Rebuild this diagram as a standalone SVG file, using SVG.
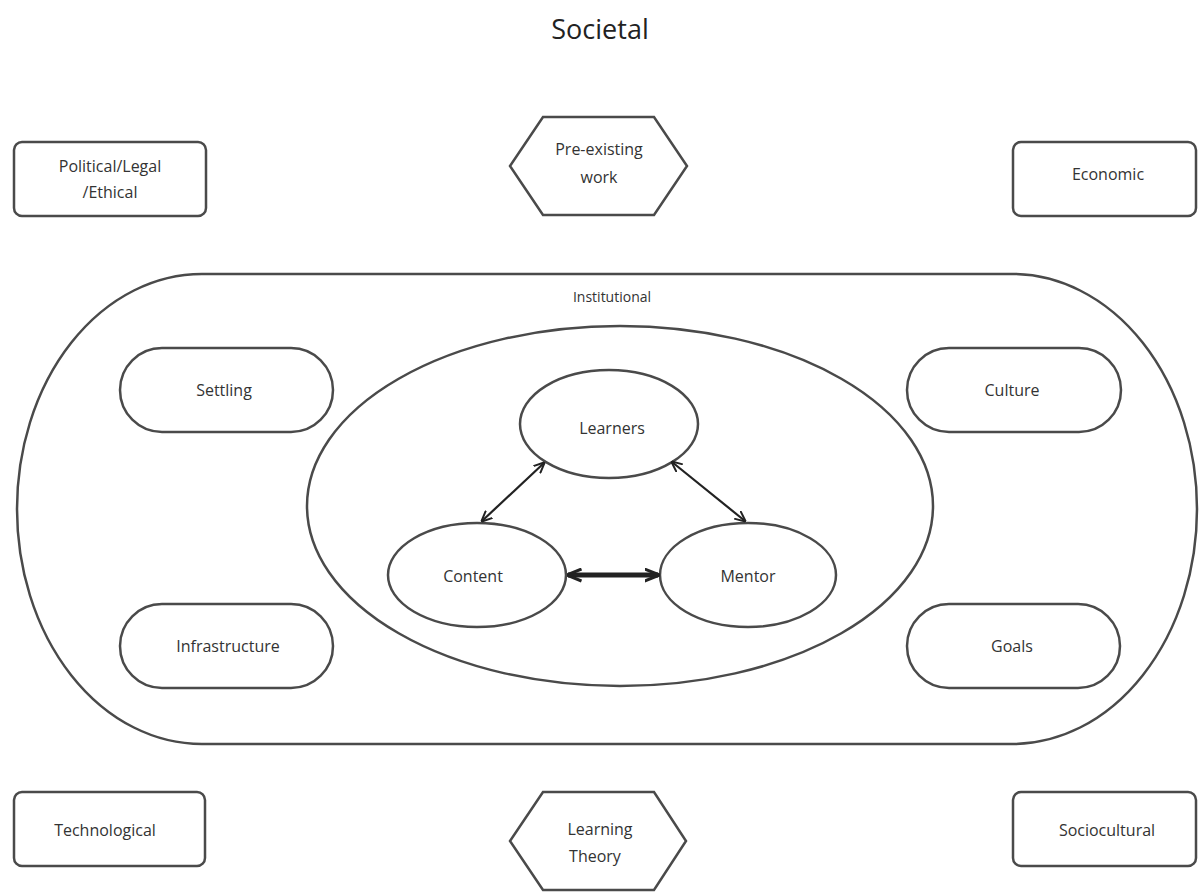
<svg xmlns="http://www.w3.org/2000/svg" width="1199" height="893" viewBox="0 0 1199 893">
<style>
.shape{fill:#fff;stroke:#4a4a4a;stroke-width:2.5}
.lbl{font-family:"Open Sans","Liberation Sans",sans-serif;font-size:16px;fill:#333;text-anchor:middle;dominant-baseline:central}
.title{font-family:"Open Sans","Liberation Sans",sans-serif;font-size:27px;fill:#222;text-anchor:middle;dominant-baseline:central}
.conn{stroke:#222;stroke-width:2.2;fill:none}
</style>
<defs>
<marker id="ah" viewBox="0 0 10 10" refX="9" refY="5" markerWidth="11" markerHeight="11" orient="auto-start-reverse" markerUnits="userSpaceOnUse">
<path d="M0,0.5 L10,5 L0,9.5" fill="none" stroke="#222" stroke-width="1.8"/>
</marker>
<marker id="ah2" viewBox="0 0 10 10" refX="9" refY="5" markerWidth="15" markerHeight="15" orient="auto-start-reverse" markerUnits="userSpaceOnUse">
<path d="M0,1 L10,5 L0,9" fill="none" stroke="#222" stroke-width="2"/>
</marker>
</defs>
<rect width="1199" height="893" fill="#fff"/>
<text class="title" x="600" y="28">Societal</text>

<g id="political"><rect class="shape" x="14" y="142" width="192" height="74" rx="8"/><text class="lbl" x="110" y="166">Political/Legal</text><text class="lbl" x="110" y="192">/Ethical</text></g>
<g id="preexisting"><polygon class="shape" points="543,117 654,117 687,166 654,215 543,215 510,166"/><text class="lbl" x="599" y="149">Pre-existing</text><text class="lbl" x="599" y="177">work</text></g>
<g id="economic"><rect class="shape" x="1013" y="142" width="183" height="74" rx="8"/><text class="lbl" x="1108" y="174">Economic</text></g>

<g id="institutional"><rect class="shape" x="17" y="274" width="1180" height="470" rx="185" ry="235"/><text class="lbl" x="612" y="296" style="font-size:14px">Institutional</text></g>

<g id="settling"><rect class="shape" x="120" y="348" width="213" height="84" rx="42"/><text class="lbl" x="224" y="390">Settling</text></g>
<g id="culture"><rect class="shape" x="907" y="348" width="214" height="84" rx="42"/><text class="lbl" x="1012" y="390">Culture</text></g>
<g id="infrastructure"><rect class="shape" x="120" y="604" width="213" height="84" rx="42"/><text class="lbl" x="228" y="646">Infrastructure</text></g>
<g id="goals"><rect class="shape" x="907" y="604" width="213" height="84" rx="42"/><text class="lbl" x="1012" y="646">Goals</text></g>

<g id="core"><ellipse class="shape" cx="620" cy="506" rx="313" ry="180"/></g>
<g id="learners"><ellipse class="shape" cx="609" cy="424" rx="89" ry="54"/><text class="lbl" x="612" y="428">Learners</text></g>
<g id="content"><ellipse class="shape" cx="477" cy="575" rx="89" ry="52"/><text class="lbl" x="473" y="576">Content</text></g>
<g id="mentor"><ellipse class="shape" cx="748" cy="575" rx="88" ry="52"/><text class="lbl" x="748" y="576">Mentor</text></g>

<g id="technological"><rect class="shape" x="14" y="792" width="191" height="74" rx="8"/><text class="lbl" x="105" y="830">Technological</text></g>
<g id="learningtheory"><polygon class="shape" points="543,792 654,792 686,841 654,890 543,890 510,841"/><text class="lbl" x="600" y="829">Learning</text><text class="lbl" x="595" y="856">Theory</text></g>
<g id="sociocultural"><rect class="shape" x="1013" y="792" width="183" height="74" rx="8"/><text class="lbl" x="1107" y="830">Sociocultural</text></g>

<g id="connectors">
<line class="conn" x1="482" y1="521" x2="544" y2="463" marker-start="url(#ah)" marker-end="url(#ah)"/>
<line class="conn" x1="672" y1="462" x2="745" y2="521" marker-start="url(#ah)" marker-end="url(#ah)"/>
<line class="conn" x1="568" y1="575" x2="658" y2="575" style="stroke-width:5" marker-start="url(#ah2)" marker-end="url(#ah2)"/>
</g>
</svg>
